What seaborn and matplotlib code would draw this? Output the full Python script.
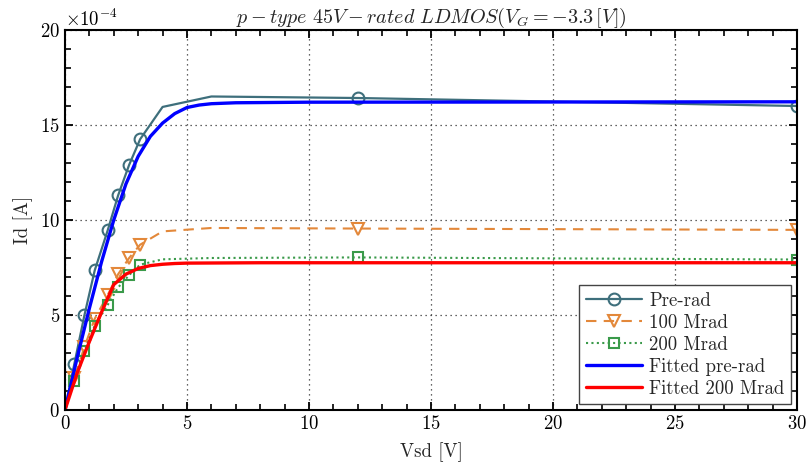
import matplotlib
matplotlib.use("Agg")
import matplotlib.pyplot as plt
import numpy as np
import pandas as pd
import seaborn as sns

# Measured drain current (units of 1e-4 A) versus source-drain voltage
vsd_meas = [0, 0.38, 0.8, 1.22, 1.75, 2.18, 2.63, 3.08, 4.0, 6.0, 12.0, 30.0]
id_prerad = [0, 2.4, 5.0, 7.35, 9.45, 11.3, 12.9, 14.25, 15.95, 16.5, 16.42, 16.0]
id_100mrad = [0, 1.67, 3.33, 4.8, 6.05, 7.15, 8.0, 8.7, 9.4, 9.58, 9.55, 9.48]
id_200mrad = [0, 1.53, 3.1, 4.44, 5.53, 6.45, 7.1, 7.65, 7.93, 8.0, 8.03, 7.92]
marker_idx = [1, 2, 3, 4, 5, 6, 7, 10, 11]

# Model fits (units of 1e-4 A)
vsd_fit_pre = [0, 0.5, 1.0, 1.5, 2.0, 2.5, 3.0, 3.5, 4.0, 4.5, 5.0, 5.5, 6.0, 7.0, 10.0, 30.0]
id_fit_pre = [0, 2.75, 5.35, 7.8, 10.0, 11.9, 13.35, 14.4, 15.1, 15.6, 15.92, 16.05, 16.12, 16.17, 16.2, 16.22]
vsd_fit_200 = [0, 0.5, 1.0, 1.5, 2.0, 2.5, 3.0, 3.5, 4.0, 4.5, 5.0, 8.0, 30.0]
id_fit_200 = [0, 1.95, 3.6, 5.15, 6.6, 7.15, 7.45, 7.6, 7.67, 7.71, 7.73, 7.75, 7.75]

scale = 1e-4
x_ticks = [0, 5, 10, 15, 20, 25, 30]
y_ticks = [0, 5, 10, 15, 20]

FS = 13.5

sns.set_theme(style="ticks")
plt.rcParams.update({
    "font.family": "serif",
    "font.serif": ["cmr10", "DejaVu Serif"],
    "mathtext.fontset": "cm",
    "axes.formatter.use_mathtext": True,
    "axes.unicode_minus": False,
    "font.size": FS,
})

fig = plt.figure(figsize=(8.07, 4.73), dpi=100)
ax = fig.add_axes([0.0805, 0.1332, 0.9071, 0.8034])

c_pre = "#3E6F7C"
c_100 = "#E3883A"
c_200 = "#3A9A4A"

def frame(x, y):
    return pd.DataFrame({"x": np.asarray(x, float), "y": np.asarray(y, float) * scale})

sns.lineplot(data=frame(vsd_meas, id_prerad), x="x", y="y", ax=ax, color=c_pre,
             lw=1.6, marker="o", markevery=marker_idx, ms=8.5, mfc="none",
             mec=c_pre, mew=1.5, label="Pre-rad", zorder=3)
sns.lineplot(data=frame(vsd_meas, id_100mrad), x="x", y="y", ax=ax, color=c_100,
             lw=1.5, ls=(0, (5, 3.5)), marker="v", markevery=marker_idx, ms=9,
             mfc="none", mec=c_100, mew=1.5, label="100 Mrad", zorder=3)
sns.lineplot(data=frame(vsd_meas, id_200mrad), x="x", y="y", ax=ax, color=c_200,
             lw=1.5, ls=(0, (1, 1.6)), marker="s", markevery=marker_idx, ms=7.5,
             mfc="none", mec=c_200, mew=1.5, label="200 Mrad", zorder=3)
sns.lineplot(data=frame(vsd_fit_pre, id_fit_pre), x="x", y="y", ax=ax,
             color="#0000FF", lw=2.4, label="Fitted pre-rad", zorder=3)
sns.lineplot(data=frame(vsd_fit_200, id_fit_200), x="x", y="y", ax=ax,
             color="#FF0000", lw=2.4, label="Fitted 200 Mrad", zorder=3)

ax.set_xlim(0, 30)
ax.set_ylim(0, 20 * scale)
ax.set_xticks(x_ticks)
ax.set_yticks([v * scale for v in y_ticks])
ax.xaxis.set_minor_locator(matplotlib.ticker.MultipleLocator(1))
ax.yaxis.set_minor_locator(matplotlib.ticker.MultipleLocator(1 * scale))
ax.ticklabel_format(axis="y", style="sci", scilimits=(-4, -4), useMathText=True)

ax.grid(True, which="major", ls=(0, (1, 3)), color="#333333", lw=0.9)

ax.tick_params(which="both", direction="in", top=True, right=True,
               bottom=True, left=True, color="black", labelcolor="black",
               labelsize=FS)
ax.tick_params(which="major", length=6, width=1.3)
ax.tick_params(which="minor", length=4, width=1.2)
for s in ax.spines.values():
    s.set_linewidth(1.5)
    s.set_color("black")
    s.set_zorder(4)

ax.set_xlabel("Vsd [V]", fontsize=FS, labelpad=7)
ax.set_ylabel("Id [A]", fontsize=FS, labelpad=5)
ax.set_title(r"$p-type\ 45V-rated\ LDMOS(V_G=-3.3\,[V])$", fontsize=14.5, pad=3)
ax.yaxis.get_offset_text().set_fontsize(FS)

leg = ax.legend(loc="lower right", fontsize=FS, frameon=True, fancybox=False,
                framealpha=1, edgecolor="#444444", handlelength=3.0,
                borderaxespad=0.3, labelspacing=0.22, borderpad=0.35,
                handletextpad=0.4)
leg.get_frame().set_linewidth(1.0)
leg.set_zorder(5)

fig.savefig("out.png", dpi=100)
